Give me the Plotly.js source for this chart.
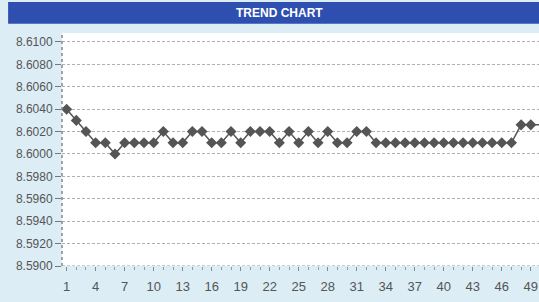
<!DOCTYPE html>
<html><head><meta charset="utf-8">
<script src="https://cdn.plot.ly/plotly-3.0.1.min.js"></script>
<style>html,body{margin:0;padding:0;background:#dcedf6;}#c{width:539px;height:302px;}</style>
</head><body><div id="c"></div>
<script>
const samples = [];
for (let i = 1; i <= 50; i++) samples.push(i);
const values = [8.6040, 8.6030, 8.6020, 8.6010, 8.6010, 8.6000, 8.6010, 8.6010, 8.6010, 8.6010,
  8.6020, 8.6010, 8.6010, 8.6020, 8.6020, 8.6010, 8.6010, 8.6020, 8.6010, 8.6020,
  8.6020, 8.6020, 8.6010, 8.6020, 8.6010, 8.6020, 8.6010, 8.6020, 8.6010, 8.6010,
  8.6020, 8.6020, 8.6010, 8.6010, 8.6010, 8.6010, 8.6010, 8.6010, 8.6010, 8.6010,
  8.6010, 8.6010, 8.6010, 8.6010, 8.6010, 8.6010, 8.6010, 8.6026, 8.6026, 8.6026];
const xTickVals = [1, 4, 7, 10, 13, 16, 19, 22, 25, 28, 31, 34, 37, 40, 43, 46, 49];
const yTickVals = [8.5900, 8.5920, 8.5940, 8.5960, 8.5980, 8.6000, 8.6020, 8.6040, 8.6060, 8.6080, 8.6100];
const yTickText = yTickVals.map(v => v.toFixed(4));
const chartTitle = 'TREND CHART';

const trace = {
  x: samples, y: values, type: 'scatter', mode: 'lines+markers',
  line: {color: '#555555', width: 1.5},
  marker: {symbol: 'diamond', size: 8.5, color: '#555555'},
  cliponaxis: false, hoverinfo: 'skip'
};
const layout = {
  width: 539, height: 302,
  margin: {l: 62, r: 0, t: 33, b: 36},
  paper_bgcolor: '#dcedf6', plot_bgcolor: '#ffffff',
  showlegend: false,
  font: {family: 'Liberation Sans, Arial, sans-serif', color: '#555555', size: 12},
  xaxis: {
    range: [0.52, 49.85], tickmode: 'array', tickvals: xTickVals,
    ticks: 'outside', ticklen: 4, tickcolor: '#888', showgrid: false, zeroline: false,
    tickfont: {size: 13, color: '#555'}, showline: false, ticklabelstandoff: 4,
    minor: {dtick: 1, tick0: 0, ticks: 'outside', ticklen: 3, tickcolor: '#999', showgrid: false}
  },
  yaxis: {
    range: [8.5900, 8.6108], tickmode: 'array', tickvals: yTickVals, ticktext: yTickText,
    ticks: 'outside', ticklen: 6, tickcolor: '#777', showgrid: true, gridcolor: '#b0b0b0',
    griddash: '3px,2px', gridwidth: 1, zeroline: false, showline: false,
    tickfont: {size: 12, color: '#555'}
  },
  shapes: [
    {type: 'rect', xref: 'paper', yref: 'paper', x0: -0.113, x1: 1.0, y0: 1.04, y1: 1.133,
     fillcolor: '#2f4fb0', line: {width: 0}, layer: 'above'},
    {type: 'line', xref: 'paper', yref: 'paper', x0: 0, x1: 0, y0: 0, y1: 1,
     line: {color: '#888', width: 1.5, dash: 'dot'}},
    {type: 'line', xref: 'paper', yref: 'y', x0: 0, x1: 1, y0: 8.5900, y1: 8.5900,
     line: {color: '#999', width: 1, dash: '3px,2px'}}
  ],
  annotations: [
    {text: '<b>' + chartTitle + '</b>', xref: 'paper', yref: 'paper', x: 0.457, y: 1.087,
     showarrow: false, font: {color: '#ffffff', size: 12, family: 'Liberation Sans, Arial, sans-serif'},
     xanchor: 'center', yanchor: 'middle'}
  ]
};
Plotly.newPlot('c', [trace], layout, {displayModeBar: false, staticPlot: true});
</script></body></html>
